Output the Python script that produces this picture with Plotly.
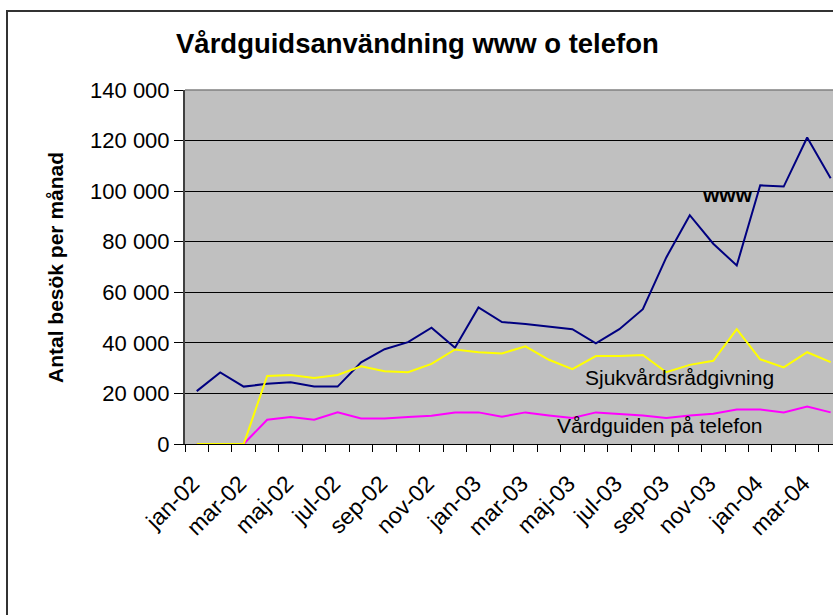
import plotly.graph_objects as go

months = ["jan-02", "feb-02", "mar-02", "apr-02", "maj-02", "jun-02", "jul-02", "aug-02",
          "sep-02", "okt-02", "nov-02", "dec-02", "jan-03", "feb-03", "mar-03", "apr-03",
          "maj-03", "jun-03", "jul-03", "aug-03", "sep-03", "okt-03", "nov-03", "dec-03",
          "jan-04", "feb-04", "mar-04", "apr-04"]

www = [20900, 28300, 22700, 23800, 24400, 22700, 22700, 32300, 37500, 40300, 46000, 38100,
       54000, 48200, 47500, 46500, 45400, 39800, 45400, 53300, 73800, 90500, 79200, 70600,
       102300, 101800, 121200, 105100]
sjuk = [0, 0, 0, 26900, 27300, 26100, 27300, 30700, 28800, 28400, 31700, 37400,
        36300, 35800, 38600, 33300, 29600, 34800, 34800, 35200, 28400, 31300, 32900, 45400,
        33500, 30300, 36300, 32400]
vard = [0, 0, 0, 9600, 10700, 9600, 12500, 10100, 10100, 10700, 11200, 12500,
        12500, 10800, 12500, 11300, 10300, 12500, 12000, 11300, 10300, 11300, 12000, 13600,
        13600, 12500, 14800, 12500]

tick_text = [m if i % 2 == 0 else "" for i, m in enumerate(months)]

title_text = "Vårdguidsanvändning www o telefon"
ytitle_text = "Antal besök per månad"

FONT = "Liberation Sans, Arial, sans-serif"

fig = go.Figure()
fig.add_trace(go.Scatter(x=months, y=www, mode="lines", name="www",
                         line=dict(color="#000080", width=2)))
fig.add_trace(go.Scatter(x=months, y=vard, mode="lines", name="Vårdguiden på telefon",
                         line=dict(color="#FF00FF", width=2)))
fig.add_trace(go.Scatter(x=months, y=sjuk, mode="lines", name="Sjukvårdsrådgivning",
                         line=dict(color="#FFFF00", width=2)))

L, T, W, H = 185, 90, 833, 615
PB = 444
pw = W - L
ph = PB - T

def px(xp):
    return (xp - L) / pw

def py(yp):
    return (PB - yp) / ph

fig.update_layout(
    width=W, height=H,
    margin=dict(l=L, r=0, t=T, b=H - PB, autoexpand=False),
    paper_bgcolor="white", plot_bgcolor="#C0C0C0",
    showlegend=False,
    separators=", ",
    font=dict(family=FONT, size=21, color="black"),
    xaxis=dict(type="category", range=[-0.5, 27.1], tickmode="array",
               tickvals=months, ticktext=tick_text, tickangle=-45,
               ticks="outside", ticklen=7, tickcolor="black", tickson="boundaries",
               showline=True, linecolor="black", linewidth=1, showgrid=False,
               tickfont=dict(size=23), ticklabelstandoff=16, ticklabelshift=-4,
               layer="below traces", automargin=False),
    yaxis=dict(range=[0, 140000], tick0=0, dtick=20000, tickformat=",d",
               ticks="outside", ticklen=9, tickcolor="black",
               showline=True, linecolor="#404040", linewidth=2,
               showgrid=True, gridcolor="black", gridwidth=1, zeroline=False,
               tickfont=dict(size=22), automargin=False),
    shapes=[
        dict(type="line", xref="paper", yref="paper", x0=0, x1=1, y0=1, y1=1,
             line=dict(color="#808080", width=1.5)),
        dict(type="rect", xref="paper", yref="paper", x0=px(7), x1=px(900),
             y0=py(700), y1=py(11), line=dict(color="#333333", width=2)),
    ],
    annotations=[
        dict(text="<b>" + title_text + "</b>", xref="paper", yref="paper",
             x=px(417), y=py(44), xanchor="center", yanchor="middle",
             showarrow=False, font=dict(size=27.5)),
        dict(text="<b>" + ytitle_text + "</b>", xref="paper", yref="paper",
             x=px(55), y=py(268), xanchor="center", yanchor="middle",
             textangle=-90, showarrow=False, font=dict(size=21)),
        dict(text="<b>www</b>", xref="x", yref="y", x=22.6, y=98500,
             showarrow=False, font=dict(size=21)),
        dict(text="Sjukvårdsrådgivning", xref="x", yref="y", x=20.58, y=26200,
             showarrow=False, font=dict(size=21)),
        dict(text="Vårdguiden på telefon", xref="x", yref="y", x=19.73, y=7300,
             showarrow=False, font=dict(size=21)),
    ],
)

fig.write_html("out.html", config={"displayModeBar": False},
               post_script="document.body.style.margin='0';document.body.style.overflow='hidden';")
